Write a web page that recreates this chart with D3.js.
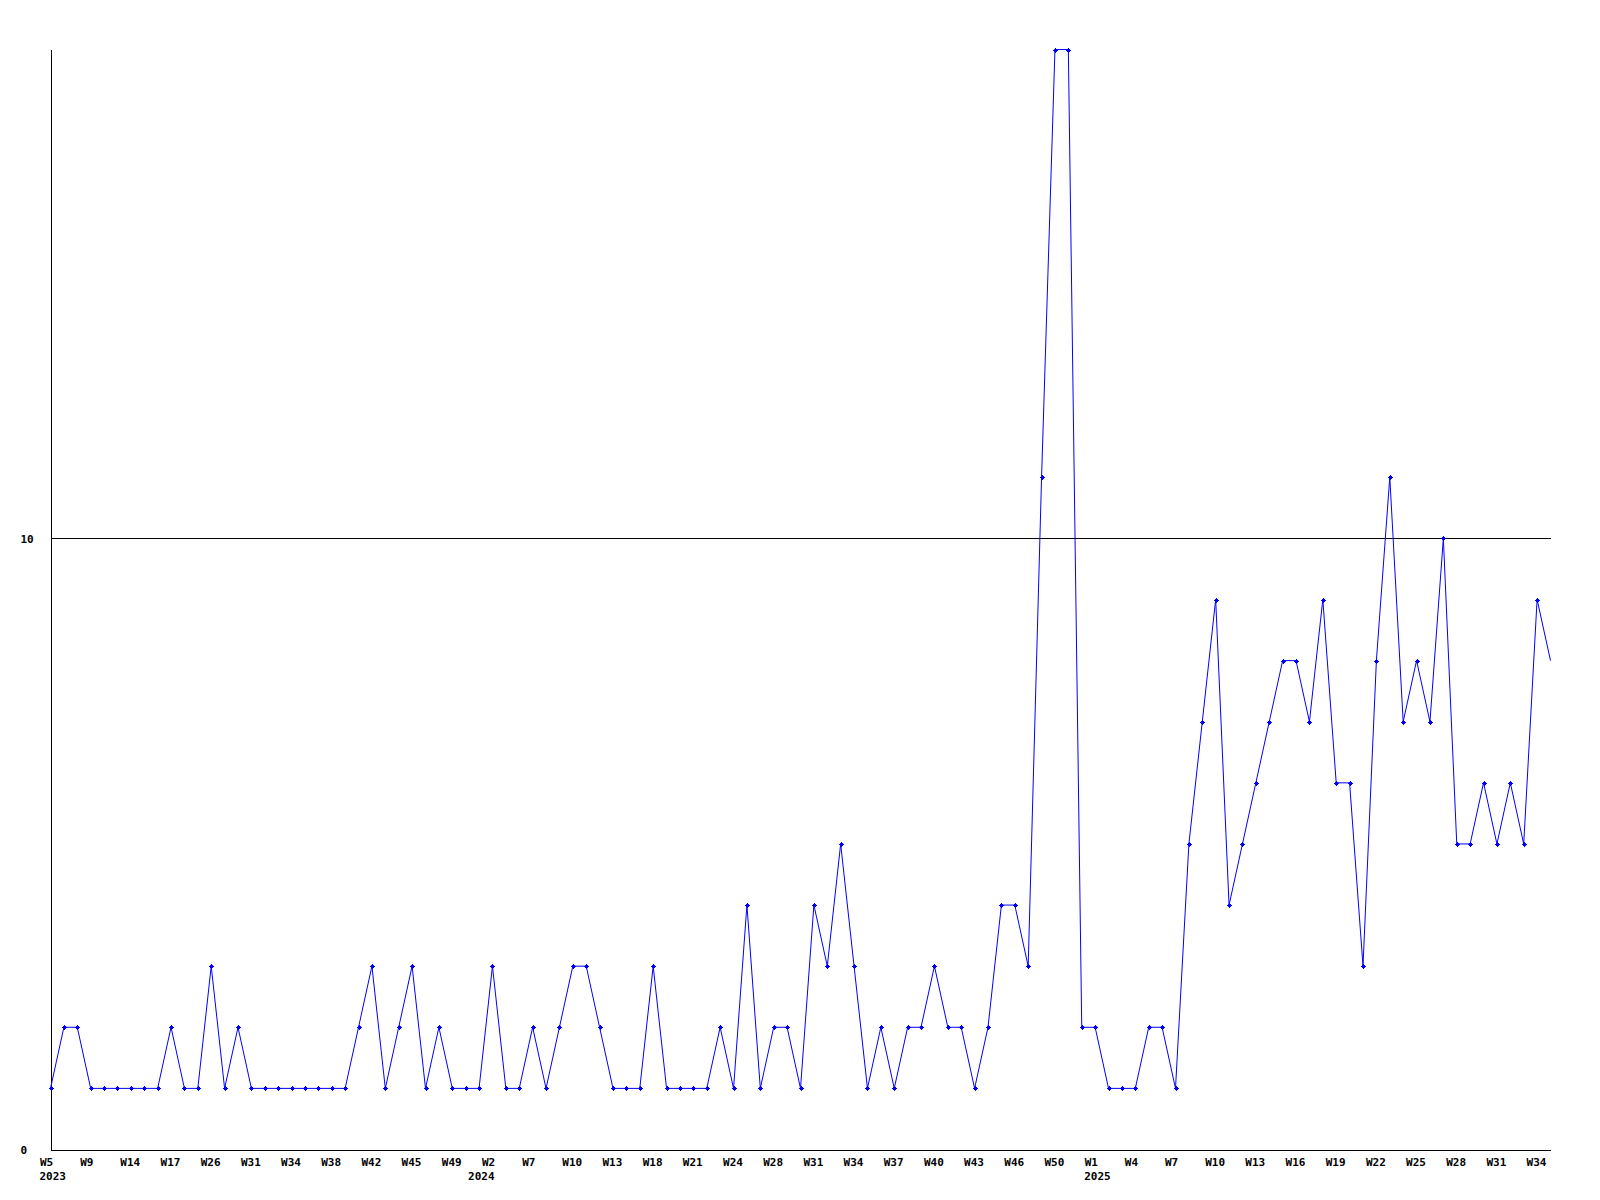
<!DOCTYPE html>
<html>
<head>
<meta charset="utf-8">
<script src="https://cdn.jsdelivr.net/npm/d3@7"></script>
<style>
  html, body { margin: 0; padding: 0; background: #ffffff; }
  svg { display: block; }
  text { font-family: "DejaVu Sans Mono", "Liberation Mono", monospace; font-weight: bold; font-size: 11px; fill: #000; }
</style>
</head>
<body>
<svg id="chart" width="1600" height="1200"></svg>
<script>
// Weekly counts, one per point (W5 2023 ... W35 2025, gaps as in source)
const values = [
  1,2,2,1,1,1,1,1,1,2,1,1,3,1,2,1,1,1,1,1,1,1,1,2,3,1,2,3,1,2,1,1,1,3,1,1,2,1,2,
  3,3,2,1,1,1,3,1,1,1,1,2,1,4,1,2,2,1,4,3,5,3,1,2,1,2,2,3,2,2,1,2,4,4,3,11,18,18,2,2,
  1,1,1,2,2,1,5,7,9,4,5,6,7,8,8,7,9,6,6,3,8,11,7,8,7,10,5,5,6,5,6,5,9,8
];
// Tick labels shown under every third point
const tickLabels = [
  "W5","W9","W14","W17","W26","W31","W34","W38","W42","W45","W49",
  "W2","W7","W10","W13","W18","W21","W24","W28","W31","W34","W37","W40","W43","W46","W50",
  "W1","W4","W7","W10","W13","W16","W19","W22","W25","W28","W31","W34"
];
// Year labels placed under the first point of each year
const yearPoints = [0, 32, 78];
const yearLabels = ["2023", "2024", "2025"];
const yTicks = [0, 10];
const yMax = 18;
const tickStep = 3;

const svg = d3.select("#chart");
const x = d3.scaleLinear().domain([0, values.length - 1]).range([50.5, 1550.5]);
const y = d3.scaleLinear().domain([0, yMax]).range([1149.5, 49.5]);
const fontCss = '"DejaVu Sans Mono", monospace';

// grid line at 10
svg.append("g").selectAll("line").data(yTicks.filter(d => d > 0)).join("line")
  .attr("x1", x.range()[0]).attr("x2", x.range()[1])
  .attr("y1", d => y(d)).attr("y2", d => y(d))
  .attr("stroke", "#000").attr("stroke-width", 1).attr("shape-rendering", "crispEdges");

// x axis
const tickVals = tickLabels.map((_, i) => i * tickStep);
const xAxis = d3.axisBottom(x).tickValues(tickVals).tickSize(0).tickSizeOuter(0)
  .tickFormat((d, i) => tickLabels[i]);
const gx = svg.append("g").attr("transform", `translate(0,${y(0)})`).call(xAxis);
gx.select(".domain").attr("stroke", "#000").attr("shape-rendering", "crispEdges");
gx.selectAll(".tick text")
  .attr("text-anchor", "start").attr("x", -11).attr("y", 16).attr("dy", null)
  .style("font-family", fontCss).style("font-weight", "bold").style("font-size", "11px").attr("fill", "#000");

// year labels (second row)
svg.append("g").attr("transform", `translate(0,${y(0)})`)
  .selectAll("text").data(yearPoints).join("text")
  .attr("text-anchor", "start")
  .attr("x", d => x(d) - 11).attr("y", 30)
  .attr("fill", "#000")
  .style("font-family", fontCss).style("font-weight", "bold").style("font-size", "11px")
  .text((d, i) => yearLabels[i]);

// y axis
const yAxis = d3.axisLeft(y).tickValues(yTicks).tickSize(0).tickSizeOuter(0).tickFormat(d3.format("d"));
const gy = svg.append("g").attr("transform", `translate(${x(0)},0)`).call(yAxis);
gy.select(".domain").attr("stroke", "#000").attr("shape-rendering", "crispEdges");
gy.selectAll(".tick text")
  .attr("text-anchor", "start").attr("x", -30).attr("dy", "0.35em")
  .style("font-family", fontCss).style("font-weight", "bold").style("font-size", "11px").attr("fill", "#000");

// line
const line = d3.line().x((d, i) => x(i)).y(d => y(d));
svg.append("path").datum(values)
  .attr("d", line).attr("fill", "none").attr("stroke", "#0000ff").attr("stroke-width", 1);

// markers (last partial point has no marker in the source)
const marker = "M-2.5,-0.5h5v1h-5z M-0.5,-2.5h1v5h-1z M-1.5,-1.5h3v3h-3z";
svg.append("g").selectAll("path").data(values.slice(0, values.length - 1)).join("path")
  .attr("transform", (d, i) => `translate(${Math.round(x(i))},${Math.round(y(d))})`)
  .attr("d", marker).attr("fill", "#0000ff").attr("shape-rendering", "crispEdges");
</script>
</body>
</html>
